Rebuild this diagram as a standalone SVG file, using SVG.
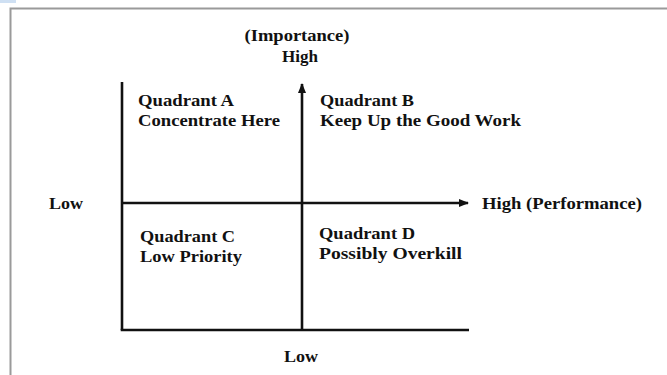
<svg xmlns="http://www.w3.org/2000/svg" width="667" height="375" viewBox="0 0 667 375">
<defs>
<style>
.t{font-family:"Liberation Serif","Times New Roman",serif;font-weight:bold;font-size:17px;fill:#111}
.ax{stroke:#111;stroke-width:2.6;fill:none}
</style>
<marker id="ah" markerWidth="10" markerHeight="8" refX="9" refY="4" orient="auto" markerUnits="userSpaceOnUse">
<path d="M0,0 L10,4 L0,8 Z" fill="#111"/>
</marker>
</defs>
<rect width="667" height="375" fill="#fff"/>
<rect x="0" y="0" width="16" height="3" fill="#cfe0f3"/>
<path d="M10.5,375 V8.5 H667" fill="none" stroke="#9a9a9a" stroke-width="2"/>
<g id="connectors">
<line class="ax" x1="122" y1="82" x2="122" y2="330"/>
<line class="ax" x1="120.7" y1="330" x2="469" y2="330"/>
<line class="ax" x1="302" y1="330" x2="302" y2="84" marker-end="url(#ah)"/>
<line class="ax" x1="122" y1="203" x2="468" y2="203" marker-end="url(#ah)"/>
</g>
<g id="y-axis-label"><text class="t" x="297" y="41" text-anchor="middle" textLength="105" lengthAdjust="spacingAndGlyphs">(Importance)</text><text class="t" x="300" y="62" text-anchor="middle" textLength="36" lengthAdjust="spacingAndGlyphs">High</text></g>
<g id="quadrant-a"><text class="t" x="138" y="106" textLength="96" lengthAdjust="spacingAndGlyphs">Quadrant A</text><text class="t" x="138" y="126" textLength="142" lengthAdjust="spacingAndGlyphs">Concentrate Here</text></g>
<g id="quadrant-b"><text class="t" x="320" y="106" textLength="94" lengthAdjust="spacingAndGlyphs">Quadrant B</text><text class="t" x="320" y="126" textLength="201" lengthAdjust="spacingAndGlyphs">Keep Up the Good Work</text></g>
<g id="x-low"><text class="t" x="49" y="209" textLength="34" lengthAdjust="spacingAndGlyphs">Low</text></g>
<g id="x-high"><text class="t" x="482" y="209" textLength="160" lengthAdjust="spacingAndGlyphs">High (Performance)</text></g>
<g id="quadrant-c"><text class="t" x="140" y="242" textLength="95" lengthAdjust="spacingAndGlyphs">Quadrant C</text><text class="t" x="140" y="262" textLength="102" lengthAdjust="spacingAndGlyphs">Low Priority</text></g>
<g id="quadrant-d"><text class="t" x="319" y="239" textLength="96" lengthAdjust="spacingAndGlyphs">Quadrant D</text><text class="t" x="319" y="259" textLength="143" lengthAdjust="spacingAndGlyphs">Possibly Overkill</text></g>
<g id="y-low"><text class="t" x="301" y="362" text-anchor="middle" textLength="34" lengthAdjust="spacingAndGlyphs">Low</text></g>
</svg>
